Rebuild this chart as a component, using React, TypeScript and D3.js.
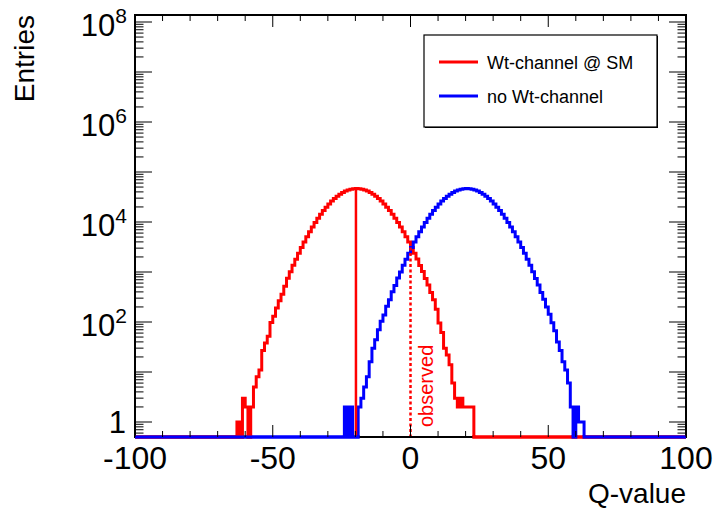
import React from "react";
import * as d3 from "d3";

const W = 718;
const H = 511;

// Axis domains and ticks
const Q_DOMAIN: [number, number] = [-100, 100];
const Y_DOMAIN: [number, number] = [Math.pow(10, -0.3), Math.pow(10, 8.14)];
const X_LABELS = [-100, -50, 0, 50, 100];
const X_MINOR_STEP = 10;
const Y_LABEL_EXPONENTS = [0, 2, 4, 6, 8];

// Histogram contents: bin width 1, first bin [start, start+1)
const RED_START = -63;
const RED_COUNTS = [
  1, 0, 3, 2, 0, 2, 5,
  8, 11, 27, 38, 52, 98, 130, 190, 265, 360, 520, 752, 1008, 1365, 1799, 2381,
  3085, 3982, 5071, 6368, 7935, 9748, 11864, 14247, 16905, 19803, 22917, 26164,
  29506, 32817, 35974, 38996, 41583, 43757, 45398, 46455,
  46770,
  46442, 45411, 43742, 41597, 38981, 35989, 32803, 29517, 26178, 22902, 19817,
  16893, 14256, 11851, 9761, 7922, 6379, 5058, 3971,
  3096, 2370, 1812, 1354, 1019, 741, 551, 389, 280, 180, 95, 62, 30, 22, 14, 6,
  3, 2, 3, 2, 2, 2, 2,
];
const BLUE_START = -24;
const BLUE_COUNTS = [
  2, 0, 2, 0, 0, 2, 3, 5, 8, 16, 30, 44, 70, 104, 138, 206, 278, 401, 538, 755,
  1005, 1371, 1793, 2384,
  3081, 3988, 5055, 6381, 7926, 9758, 11852, 14260, 16893, 19822, 22905, 26181,
  29498, 32822, 35968, 39003, 41576, 43766, 45389, 46461, 46782, 46438, 45405,
  43745, 41602, 38977, 35992, 32798, 29521, 26160, 22914, 19799, 16911, 14241,
  11869, 9745, 7938, 6366, 5069, 3984, 3093, 2373, 1809, 1357, 1016, 744, 548,
  391, 285, 199, 143, 97, 67, 40, 27, 16, 11, 6, 2, 0, 2, 1, 1,
];
const RED_MEDIAN = -19.8;
const OBSERVED_Q = 0;
const LEGEND_LABELS = ["Wt-channel @ SM", "no Wt-channel"];
const COLORS = ["#ff0000", "#0000ff"];

const FONT = "'Liberation Sans', Arial, Helvetica, sans-serif";

const M = { left: 135, right: 686, top: 15, bottom: 437 };

function fullBins(start: number, counts: number[]): [number, number][] {
  const out: [number, number][] = [];
  for (let q = Q_DOMAIN[0]; q < Q_DOMAIN[1]; q++) {
    const idx = q - start;
    out.push([q, idx >= 0 && idx < counts.length ? counts[idx] : 0]);
  }
  out.push([Q_DOMAIN[1], out[out.length - 1][1]]);
  return out;
}

export default function App() {
  const x = d3.scaleLinear().domain(Q_DOMAIN).range([M.left, M.right]);
  const y = d3.scaleLog().domain(Y_DOMAIN).range([M.bottom, M.top]);
  const yv = (v: number) => (v > 0 ? Math.min(y(v), M.bottom) : M.bottom);

  const line = d3
    .line<[number, number]>()
    .x((d) => x(d[0]))
    .y((d) => yv(d[1]))
    .curve(d3.curveStepAfter);

  const redPath = line(fullBins(RED_START, RED_COUNTS)) || "";
  const bluePath = line(fullBins(BLUE_START, BLUE_COUNTS)) || "";

  const valueAt = (start: number, counts: number[], q: number) => {
    const idx = Math.floor(q) - start;
    return idx >= 0 && idx < counts.length ? counts[idx] : 0;
  };

  // x ticks
  const xTicks: { q: number; major: boolean }[] = [];
  for (let q = Q_DOMAIN[0]; q <= Q_DOMAIN[1]; q += X_MINOR_STEP) {
    xTicks.push({ q, major: q % 50 === 0 });
  }
  // y ticks
  const yTicks: { v: number; major: boolean }[] = [];
  for (let k = -1; k <= 8; k++) {
    for (let m = 1; m <= 9; m++) {
      const v = m * Math.pow(10, k);
      if (v >= Y_DOMAIN[0] && v <= Y_DOMAIN[1]) yTicks.push({ v, major: m === 1 });
    }
  }
  const xMajorLen = 12, xMinorLen = 6, yMajorLen = 17, yMinorLen = 8.5;

  const medianTop = yv(valueAt(RED_START, RED_COUNTS, RED_MEDIAN));
  const obsTop = yv(valueAt(RED_START, RED_COUNTS, OBSERVED_Q));

  return (
    <svg
      width={W}
      height={H}
      style={{ position: "absolute", left: 0, top: 0, background: "#fff" }}
      fontFamily={FONT}
    >
      <rect x={0} y={0} width={W} height={H} fill="#fff" />
      <defs>
        <clipPath id="baseClip">
          <rect x={0} y={M.bottom - 2} width={W} height={5} />
        </clipPath>
      </defs>

      {/* histograms */}
      <path d={redPath} fill="none" stroke={COLORS[0]} strokeWidth={3} />
      <path d={bluePath} fill="none" stroke={COLORS[1]} strokeWidth={3} />

      {/* median line */}
      <line
        x1={x(RED_MEDIAN)}
        x2={x(RED_MEDIAN)}
        y1={medianTop}
        y2={M.bottom}
        stroke={COLORS[0]}
        strokeWidth={2.5}
      />
      {/* observed line */}
      <line
        x1={x(OBSERVED_Q)}
        x2={x(OBSERVED_Q)}
        y1={obsTop}
        y2={M.bottom}
        stroke={COLORS[0]}
        strokeWidth={2.5}
        strokeDasharray="3 2.5"
      />
      <text
        transform={`translate(${x(OBSERVED_Q) + 22},${M.bottom - 10}) rotate(-90)`}
        fontSize={20}
        fill={COLORS[0]}
      >
        observed
      </text>

      {/* frame */}
      <rect
        x={M.left}
        y={M.top}
        width={M.right - M.left}
        height={M.bottom - M.top}
        fill="none"
        stroke="#000"
        strokeWidth={2}
      />
      {/* colored baselines drawn over frame bottom where histograms are zero */}
      <path d={redPath} fill="none" stroke={COLORS[0]} strokeWidth={3} clipPath="url(#baseClip)" />
      <path d={bluePath} fill="none" stroke={COLORS[1]} strokeWidth={3} clipPath="url(#baseClip)" />

      {/* x ticks */}
      {xTicks.map((t) => (
        <g key={"xt" + t.q}>
          <line
            x1={x(t.q)}
            x2={x(t.q)}
            y1={M.bottom}
            y2={M.bottom - (t.major ? xMajorLen : xMinorLen)}
            stroke="#000"
            strokeWidth={1}
          />
          <line
            x1={x(t.q)}
            x2={x(t.q)}
            y1={M.top}
            y2={M.top + (t.major ? xMajorLen : xMinorLen)}
            stroke="#000"
            strokeWidth={1}
          />
        </g>
      ))}
      {/* y ticks */}
      {yTicks.map((t, i) => (
        <g key={"yt" + i}>
          <line
            x1={M.left}
            x2={M.left + (t.major ? yMajorLen : yMinorLen)}
            y1={y(t.v)}
            y2={y(t.v)}
            stroke="#000"
            strokeWidth={1}
          />
          <line
            x1={M.right}
            x2={M.right - (t.major ? yMajorLen : yMinorLen)}
            y1={y(t.v)}
            y2={y(t.v)}
            stroke="#000"
            strokeWidth={1}
          />
        </g>
      ))}

      {/* x labels */}
      {X_LABELS.map((q) => (
        <text key={"xl" + q} x={x(q)} y={469} fontSize={32} textAnchor="middle" fill="#000">
          {q}
        </text>
      ))}
      {/* y labels */}
      {Y_LABEL_EXPONENTS.map((e) =>
        e === 0 ? (
          <text key={"yl" + e} x={126} y={y(1) + 11} fontSize={31} textAnchor="end" fill="#000">
            1
          </text>
        ) : (
          <text key={"yl" + e} x={127} y={y(Math.pow(10, e)) + 14} fontSize={31} textAnchor="end" fill="#000">
            10
            <tspan dy={-13} fontSize={21}>
              {e}
            </tspan>
          </text>
        )
      )}

      {/* axis titles */}
      <text x={M.right} y={503} fontSize={28} textAnchor="end" fill="#000">
        Q-value
      </text>
      <text transform={`translate(34,${M.top}) rotate(-90)`} fontSize={28} textAnchor="end" fill="#000">
        Entries
      </text>

      {/* legend with thin ROOT-like shadow */}
      <rect x={425} y={36} width={233} height={92} fill="#000" />
      <rect x={424} y={35} width={233} height={92} fill="#fff" stroke="#000" strokeWidth={1.2} />
      {LEGEND_LABELS.map((lab, i) => (
        <g key={lab}>
          <line x1={439} x2={478} y1={62 + i * 34} y2={62 + i * 34} stroke={COLORS[i]} strokeWidth={3} />
          <text x={487} y={68.5 + i * 34} fontSize={18} fill="#000">
            {lab}
          </text>
        </g>
      ))}
    </svg>
  );
}
